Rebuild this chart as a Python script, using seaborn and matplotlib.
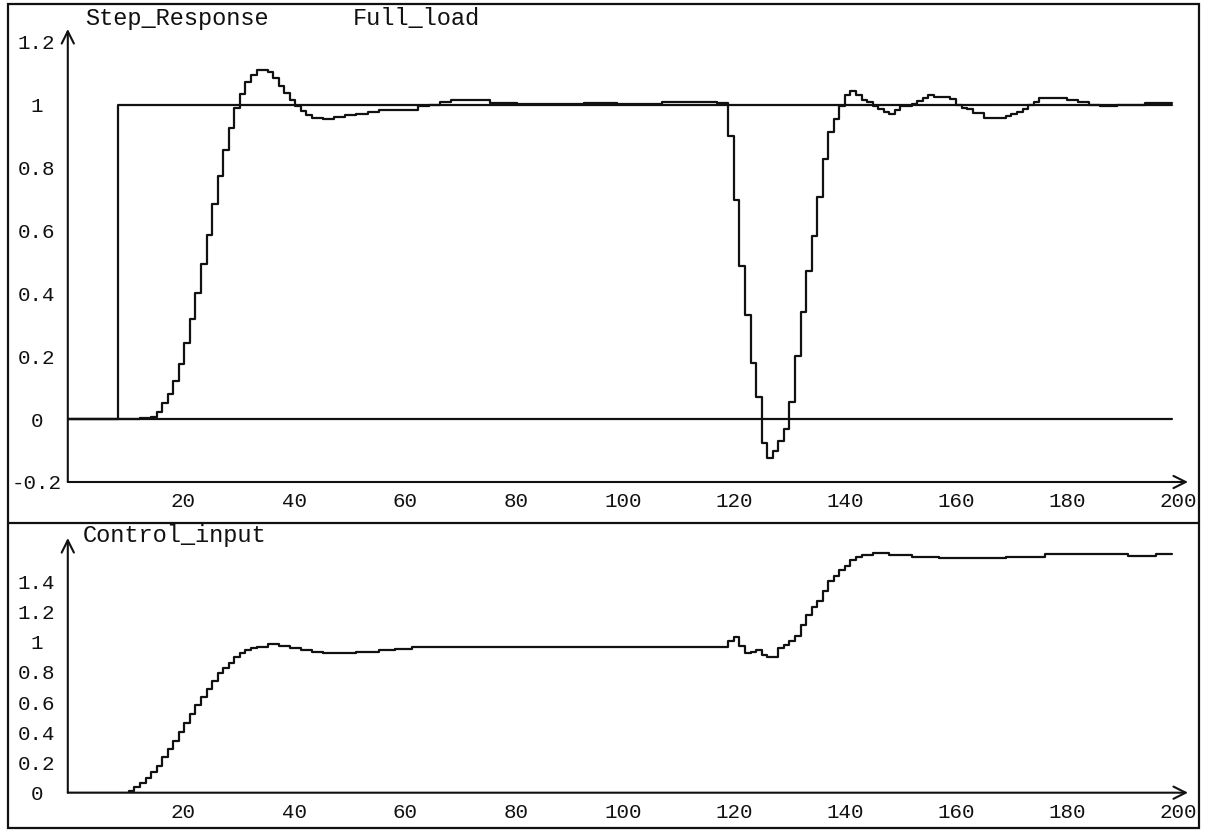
import numpy as np
import matplotlib
matplotlib.use("Agg")
import matplotlib.pyplot as plt
import matplotlib.transforms as mtransforms
from matplotlib.patches import Rectangle
from matplotlib.lines import Line2D
import seaborn as sns

# ---- sampled signals (zero-order hold, sample period 1) ----
# reference step
ref_t = [1, 10, 200]
ref_v = [0.0, 1.0, 1.0]

# zero baseline signal
base_t = [1, 200]
base_v = [0.0, 0.0]

# plant output: times where the held value changes, and the new value
resp_t = [1, 14, 16, 17, 18, 19, 20, 21, 22, 23, 24, 25, 26, 27, 28, 29, 30,
          31, 32, 33, 34, 35, 37, 38, 39, 40, 41, 42, 43, 44, 45, 47, 49, 51,
          53, 55, 57, 64, 66, 68, 70, 77, 82, 94, 100, 108, 118,
          120, 121, 122, 123, 124, 125, 126, 127, 128, 129, 130, 131, 132,
          133, 134, 135, 136, 137, 138, 139, 140, 141, 142, 143, 144, 145,
          146, 147, 148, 149, 150, 151, 153, 154, 155, 156, 157, 160, 161,
          162, 163, 164, 166, 170, 171, 172, 173, 174, 175, 176, 181, 183,
          185, 187, 190, 195, 200]
resp_v = [0.0, 0.004, 0.008, 0.024, 0.051, 0.079, 0.12, 0.175, 0.241, 0.317,
          0.40, 0.495, 0.587, 0.683, 0.772, 0.855, 0.926,
          0.989, 1.035, 1.073, 1.096, 1.109, 1.104, 1.085, 1.061, 1.037, 1.014,
          0.995, 0.979, 0.966, 0.959, 0.956, 0.961, 0.966,
          0.971, 0.977, 0.984, 0.995, 1.0, 1.008, 1.016, 1.006, 1.003, 1.007,
          1.004, 1.009, 1.006,
          0.902, 0.697, 0.486, 0.33, 0.18, 0.071, -0.075, -0.123, -0.10,
          -0.07, -0.03, 0.055, 0.20,
          0.34, 0.472, 0.583, 0.708, 0.828, 0.913, 0.955, 0.995, 1.032, 1.043,
          1.032, 1.016, 1.008,
          0.997, 0.986, 0.976, 0.972, 0.984, 0.995, 1.002, 1.012, 1.022,
          1.032, 1.025, 1.017, 1.0,
          0.99, 0.985, 0.973, 0.958, 0.965, 0.972, 0.978, 0.988, 1.0, 1.01,
          1.02, 1.014, 1.008,
          1.0, 0.995, 1.0, 1.005, 1.005]

# control signal
ctrl_t = [1, 12, 13, 14, 15, 16, 17, 18, 19, 20, 21, 22, 23, 24, 25, 26, 27,
          28, 29, 30, 31, 32, 33, 34, 35, 37, 39, 41, 43, 45, 47, 53, 57, 60,
          63, 120, 121, 122, 123, 124, 125, 126, 127, 129, 130, 131, 132, 133,
          134, 135, 136, 137, 138, 139, 140, 141, 142, 143, 144, 146, 149,
          153, 158, 170, 177, 192, 197, 200]
ctrl_v = [0.0, 0.011, 0.04, 0.062, 0.095, 0.139, 0.177, 0.234, 0.287, 0.344,
          0.404, 0.459, 0.519, 0.58, 0.636, 0.687, 0.74,
          0.79, 0.823, 0.861, 0.896, 0.927, 0.945, 0.96, 0.967, 0.982, 0.971,
          0.96, 0.945, 0.934, 0.923, 0.934, 0.945, 0.955,
          0.965, 1.008, 1.03, 0.97, 0.925, 0.931, 0.947, 0.914, 0.896, 0.958,
          0.981, 1.008, 1.037, 1.111,
          1.178, 1.232, 1.272, 1.335, 1.402, 1.438, 1.473, 1.50, 1.54, 1.563,
          1.574, 1.585, 1.574,
          1.563, 1.552, 1.563, 1.579, 1.567, 1.58, 1.58]

x_ticks = [20, 40, 60, 80, 100, 120, 140, 160, 180, 200]
top_yticks = [-0.2, 0, 0.2, 0.4, 0.6, 0.8, 1, 1.2]
top_ylabels = ["-0.2", "0", "0.2", "0.4", "0.6", "0.8", "1", "1.2"]
bot_yticks = [0, 0.2, 0.4, 0.6, 0.8, 1, 1.2, 1.4]
bot_ylabels = ["0", "0.2", "0.4", "0.6", "0.8", "1", "1.2", "1.4"]

sns.set_style("white")
plt.rcParams["font.family"] = ["Liberation Mono", "DejaVu Sans Mono"]

W, H = 1206, 831
fig = plt.figure(figsize=(W / 100, H / 100), dpi=100)
ink = "#111111"


def px_box(x0, x1, ytop, ybot):
    return [x0 / W, 1 - ybot / H, (x1 - x0) / W, (ybot - ytop) / H]


ax_top = fig.add_axes(px_box(67.8, 1188, 29, 482))
ax_bot = fig.add_axes(px_box(67.8, 1188, 538, 792.7))

line_kw = dict(color=ink, lw=1.6, drawstyle="steps-post", estimator=None,
               legend=False)
sns.lineplot(x=base_t, y=base_v, ax=ax_top, **line_kw)
sns.lineplot(x=ref_t, y=ref_v, ax=ax_top, **line_kw)
sns.lineplot(x=resp_t, y=resp_v, ax=ax_top, **line_kw)
sns.lineplot(x=ctrl_t, y=ctrl_v, ax=ax_bot, **line_kw)

ax_top.set_ylim(-0.2, 1.241)
ax_bot.set_ylim(0, 1.687)

tick_font = 15
for ax, yt, yl in [(ax_top, top_yticks, top_ylabels),
                   (ax_bot, bot_yticks, bot_ylabels)]:
    ax.set_xlim(1, 202.8)
    for s in ax.spines.values():
        s.set_visible(False)
    ax.set_facecolor("none")
    ax.set_xlabel("")
    ax.set_ylabel("")
    ax.set_xticks(x_ticks)
    ax.set_xticklabels([str(v) for v in x_ticks], fontsize=tick_font)
    ax.set_yticks(yt)
    ax.set_yticklabels(yl, fontsize=tick_font, ha="center")
    ax.tick_params(axis="x", direction="out", length=6.5, width=1.4,
                   color=ink, labelcolor=ink, pad=1)
    ax.tick_params(axis="y", direction="out", length=6.5, width=1.4,
                   color=ink, labelcolor=ink, pad=16)
    for lbl in ax.get_yticklabels():
        lbl.set_horizontalalignment("center")
    for lbl in ax.get_xticklabels():
        dx = 10 if len(lbl.get_text()) < 3 else 6
        lbl.set_transform(lbl.get_transform() +
                          mtransforms.ScaledTranslation(dx / 100, 0,
                                                        fig.dpi_scale_trans))
    arrow = dict(arrowstyle="->", lw=1.5, color=ink, mutation_scale=22,
                 shrinkA=0, shrinkB=0)
    ax.annotate("", xy=(1, 0), xytext=(0, 0), xycoords="axes fraction",
                textcoords="axes fraction", arrowprops=arrow,
                annotation_clip=False)
    ax.annotate("", xy=(0, 1), xytext=(0, 0), xycoords="axes fraction",
                textcoords="axes fraction", arrowprops=arrow,
                annotation_clip=False)

# outer frame and panel divider
fig.add_artist(Rectangle((7.5 / W, 1 - 828 / H), (1199 - 7.5) / W,
                         (828 - 4) / H, transform=fig.transFigure,
                         fill=False, lw=1.6, edgecolor=ink))
fig.add_artist(Line2D([7.5 / W, 1199 / W], [1 - 522.5 / H, 1 - 522.5 / H],
                      transform=fig.transFigure, lw=1.6, color=ink))

title_font = 17
fig.text(85 / W, 1 - 25 / H, "Step_Response", fontsize=title_font,
         color=ink, va="baseline", ha="left")
fig.text(353 / W, 1 - 25 / H, "Full_load", fontsize=title_font,
         color=ink, va="baseline", ha="left")
fig.text(83 / W, 1 - 542 / H, "Control_input", fontsize=title_font,
         color=ink, va="baseline", ha="left")

fig.savefig("out.png", dpi=100, facecolor="white")
